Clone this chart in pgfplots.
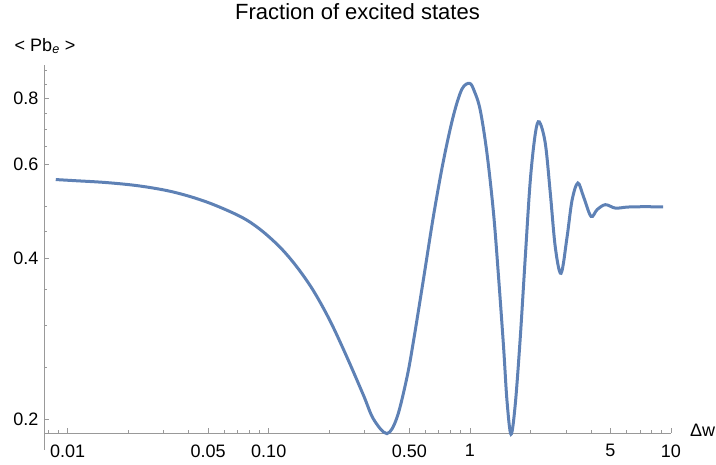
\documentclass[border=0pt]{standalone}
\usepackage{pgfplots}
\pgfplotsset{compat=1.18}
\usepackage{fontspec}
\setmainfont{Liberation Sans}
\definecolor{mmablue}{rgb}{0.368417,0.506779,0.709798}
\definecolor{axgray}{gray}{0.6}
\begin{document}
\begin{tikzpicture}
% page frame, same size as the reference
\path (-44pt,-32pt) rectangle (672pt,433pt);
\begin{axis}[
    at={(0pt,0pt)}, anchor=south west,
    scale only axis, width=627pt, height=368pt,
    xmode=log, ymode=log,
    xmin=0.00763, xmax=10,
    ymin=0.1883, ymax=0.922,
    axis x line=bottom, axis y line=left,
    axis line style={axgray, line width=0.8pt, -},
    tick align=inside,
    tick style={axgray, line width=0.6pt},
    major tick length=5pt, minor tick length=3pt,
    xtick={0.01,0.05,0.1,0.5,1,5,10},
    xticklabels={0.01,0.05,0.10,0.50,1,5,10},
    minor xtick={0.008,0.009,0.02,0.03,0.04,0.06,0.07,0.08,0.09,
                 0.2,0.3,0.4,0.6,0.7,0.8,0.9,2,3,4,6,7,8,9},
    ytick={0.2,0.4,0.6,0.8},
    yticklabels={0.2,0.4,0.6,0.8},
    minor ytick={0.25,0.3,0.35,0.45,0.5,0.65,0.7,0.75,0.85,0.9},
    ticklabel style={font=\fontsize{18}{21}\selectfont, black},
    xticklabel style={yshift=-8pt},
    yticklabel style={xshift=-2pt},
    clip=false,
]
\addplot[mmablue, line width=3pt, smooth, tension=0.55] coordinates {
(0.00873,0.5623) (0.01068,0.5598) (0.01565,0.5550) (0.02292,0.5468)
(0.03357,0.5328) (0.04920,0.5103) (0.07207,0.4796) (0.09063,0.4534)
(0.1140,0.4195) (0.1380,0.3856) (0.1669,0.3478) (0.2020,0.3053)
(0.2446,0.2614) (0.2959,0.2215) (0.3319,0.1999)
(0.3870,0.1878) (0.4339,0.2012) (0.4865,0.2393)
(0.5248,0.2805) (0.5886,0.3668) (0.6599,0.4817) (0.7398,0.6113)
(0.8296,0.7427) (0.9135,0.8310) (0.9966,0.8518) (1.0517,0.8240)
(1.126,0.7589) (1.2166,0.6293) (1.3118,0.4853) (1.389,0.3688)
(1.4712,0.2724) (1.5297,0.2163) (1.6014,0.1873) (1.682,0.2133)
(1.781,0.2845) (1.886,0.4022) (1.9976,0.5606) (2.116,0.6861)
(2.2143,0.7215) (2.372,0.6570) (2.512,0.5298) (2.660,0.4195)
(2.840,0.3752) (3.042,0.4385) (3.221,0.5140) (3.442,0.5540)
(3.678,0.5214) (4.004,0.4796) (4.289,0.4937) (4.716,0.5045)
(5.289,0.4971) (6.048,0.4993) (7.0,0.5000) (8.0,0.5000) (9.135,0.5000)
};
\end{axis}
\draw[axgray, line width=0.8pt] (0pt,0pt) -- (0pt,-17pt);
\node[font=\fontsize{22}{26}\selectfont] at (313.5pt,421pt) {Fraction of excited states};
\node[font=\fontsize{18}{22}\selectfont] at (1pt,387pt) {<~Pb\textsubscript{\textit{e}}~>};
\node[font=\fontsize{18}{22}\selectfont, anchor=west, inner sep=0pt] at (646pt,3pt) {Δw};
\end{tikzpicture}
\end{document}
